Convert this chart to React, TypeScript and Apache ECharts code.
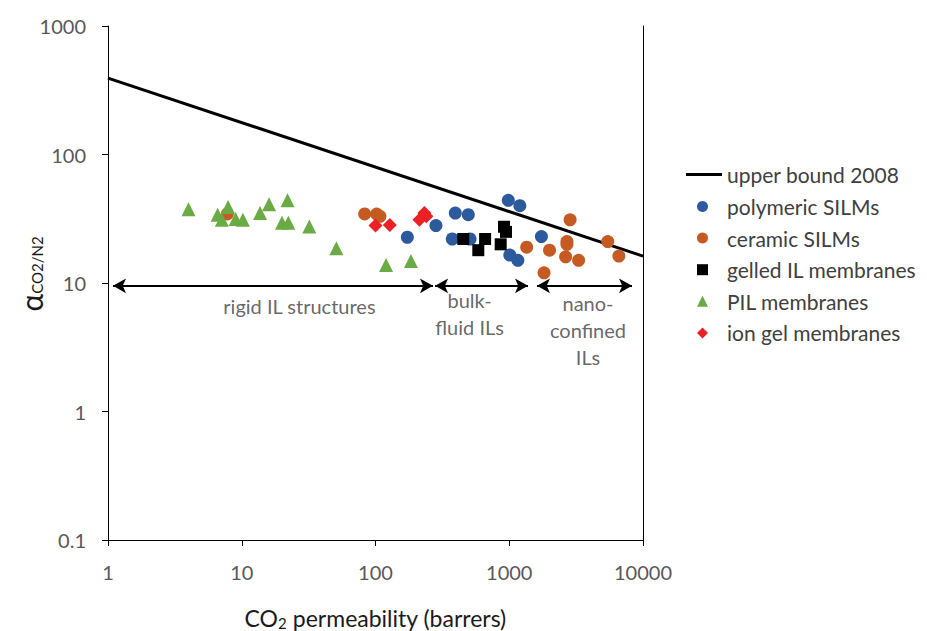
import React, { useEffect, useRef } from "react";
import * as echarts from "echarts";

const xTicks = [1, 10, 100, 1000, 10000];
const yTicks = [0.1, 1, 10, 100, 1000];

const upperBound2008 = [[1, 393], [10000, 16.2]];

const polymericSILMs = [
  [173, 22.7], [283, 28], [395, 35], [494, 34], [375, 22], [509, 22],
  [984, 44], [1200, 40], [1740, 23], [1010, 16.5], [1160, 15],
];
const ceramicSILMs = [
  [7.8, 34.5], [83, 34.5], [102, 34.4], [108, 33], [1350, 19], [2000, 18],
  [2850, 31], [2700, 21], [2700, 20], [2640, 16], [3300, 15], [1820, 12],
  [5450, 21], [6600, 16.2],
];
const gelledILMembranes = [
  [453, 22], [660, 22], [587, 18], [914, 27.4], [946, 25], [863, 20],
];
const pilMembranes = [
  [4, 37.5], [6.6, 34], [7.1, 31], [7.9, 39], [9, 31.5], [10.2, 31],
  [13.7, 35], [16, 41], [22, 44], [20, 29.5], [22.3, 29.5], [32, 27.5],
  [51, 18.6], [120, 13.8], [184, 14.8],
];
const ionGelMembranes = [
  [100, 28], [128, 28.3], [213, 31], [232, 35], [240, 33],
];

const regionArrows = [
  [[1.09, 9.5], [269, 9.5]],
  [[279, 9.5], [1381, 9.5]],
  [[1612, 9.5], [8275, 9.5]],
];
const regionLabels = [
  { value: [27, 6.6], text: "rigid IL structures" },
  { value: [505, 5.8], text: "bulk-\nfluid ILs" },
  { value: [3880, 4.3], text: "nano-\nconfined\nILs" },
];

const lineLegend = ["upper bound 2008"];
const markerLegend = [
  { name: "polymeric SILMs", icon: "circle" },
  { name: "ceramic SILMs", icon: "circle" },
  { name: "gelled IL membranes", icon: "rect" },
  { name: "PIL membranes", icon: "triangle" },
  { name: "ion gel membranes", icon: "diamond" },
];

const FONT = "Lato, 'Open Sans', sans-serif";

export default function App() {
  const ref = useRef<HTMLDivElement>(null);
  useEffect(() => {
    if (!ref.current) return;
    const chart = echarts.init(ref.current, null, { renderer: "svg" });
    const scatter = (name: string, data: number[][], symbol: string, size: number, color: string) => ({
      name,
      type: "scatter",
      data,
      symbol,
      symbolSize: size,
      itemStyle: { color, opacity: 1 },
      z: 3,
    });
    const legendText = { fontSize: 21, color: "#404040", lineHeight: 20, fontFamily: FONT };
    chart.setOption({
      animation: false,
      textStyle: { fontFamily: FONT },
      grid: { left: 108, right: 284, top: 26, bottom: 91, outerBoundsMode: "none", containLabel: false },
      xAxis: {
        type: "log",
        logBase: 10,
        min: xTicks[0],
        max: xTicks[xTicks.length - 1],
        name: "CO{s|2} permeability (barrers)",
        nameLocation: "middle",
        nameGap: 65,
        nameMoveOverlap: false,
        nameTextStyle: {
          fontSize: 23,
          color: "#1a1a1a",
          fontFamily: FONT,
          rich: { s: { fontSize: 15, color: "#1a1a1a", padding: [10, 0, 0, 0], fontFamily: FONT } },
        },
        axisLine: { show: true, onZero: false, lineStyle: { color: "#000", width: 1 } },
        axisTick: { show: true, length: 6, inside: false, lineStyle: { color: "#000" } },
        minorTick: { show: false },
        splitLine: { show: false },
        axisLabel: { fontSize: 20, color: "#595959", margin: 22, fontFamily: FONT, formatter: (v: number) => String(v) },
      },
      yAxis: [
        {
          type: "log",
          logBase: 10,
          min: yTicks[0],
          max: yTicks[yTicks.length - 1],
          name: "{a|α}{s|CO2/N2}",
          nameLocation: "middle",
          nameRotate: 90,
          nameGap: 62,
          nameMoveOverlap: false,
          nameTextStyle: {
            padding: [0, 0, 0, 18],
            rich: {
              a: { fontSize: 30, color: "#1a1a1a", fontFamily: FONT },
              s: { fontSize: 15, color: "#1a1a1a", padding: [12, 0, 0, 0], fontFamily: FONT },
            },
          },
          axisLine: { show: true, onZero: false, lineStyle: { color: "#000", width: 1 } },
          axisTick: { show: true, length: 6, lineStyle: { color: "#000" } },
          splitLine: { show: false },
          axisLabel: { fontSize: 20, color: "#595959", margin: 22, fontFamily: FONT, formatter: (v: number) => String(v) },
        },
        {
          type: "log",
          logBase: 10,
          min: yTicks[0],
          max: yTicks[yTicks.length - 1],
          position: "right",
          axisLine: { show: true, onZero: false, lineStyle: { color: "#000", width: 1 } },
          axisTick: { show: false },
          axisLabel: { show: false },
          splitLine: { show: false },
        },
      ],
      legend: [
        {
          orient: "vertical",
          left: 686,
          top: 164,
          padding: 0,
          itemWidth: 36,
          itemHeight: 3,
          textStyle: legendText,
          data: lineLegend.map((name) => ({ name, icon: "rect", itemStyle: { color: "#000" } })),
        },
        {
          orient: "vertical",
          left: 697,
          top: 196,
          padding: 0,
          itemWidth: 11,
          itemHeight: 11,
          itemGap: 10.6,
          textStyle: { ...legendText, padding: [0, 0, 0, 14] },
          data: markerLegend,
        },
      ],
      series: [
        {
          name: "upper bound 2008",
          type: "line",
          data: upperBound2008,
          showSymbol: false,
          symbol: "none",
          lineStyle: { color: "#000", width: 3 },
          itemStyle: { color: "#000" },
          z: 2,
        },
        scatter("polymeric SILMs", polymericSILMs, "circle", 13, "#2c5a9c"),
        scatter("ceramic SILMs", ceramicSILMs, "circle", 13, "#c55a23"),
        scatter("gelled IL membranes", gelledILMembranes, "rect", 12, "#000000"),
        scatter("PIL membranes", pilMembranes, "triangle", 14, "#6aab46"),
        scatter("ion gel membranes", ionGelMembranes, "diamond", 14, "#ec2025"),
        {
          name: "regions",
          type: "scatter",
          data: regionLabels.map((d) => ({ value: d.value, label: { formatter: d.text } })),
          symbolSize: 0,
          silent: true,
          label: {
            show: true,
            position: "inside",
            fontSize: 20,
            lineHeight: 27,
            color: "#404040",
            align: "center",
            fontFamily: FONT,
          },
          markLine: {
            silent: true,
            symbol: ["arrow", "arrow"],
            symbolSize: [11, 13],
            label: { show: false },
            lineStyle: { color: "#000", width: 2, type: "solid" },
            data: regionArrows.map(([a, b]) => [{ coord: a }, { coord: b }]),
          },
        },
      ],
    });
    return () => chart.dispose();
  }, []);
  return <div ref={ref} style={{ width: 927, height: 631, position: "absolute", left: 0, top: 0 }} />;
}
